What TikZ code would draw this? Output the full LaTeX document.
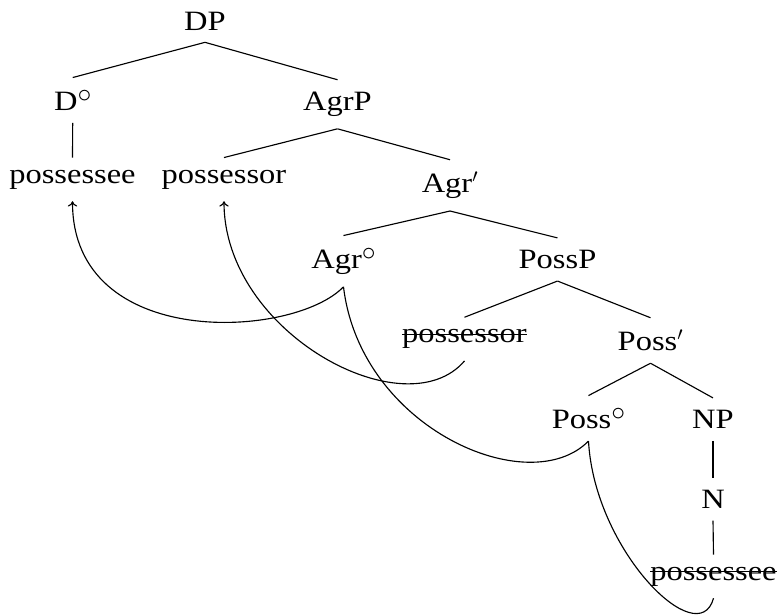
\documentclass[tikz,border=0pt]{standalone}
\usepackage{fontspec}
\usetikzlibrary{arrows.meta}
\setmainfont[FakeStretch=1.16]{Liberation Serif}
% struck-through (deleted) copy of a moved constituent
\newcommand\struck[1]{\setbox0\hbox{#1}\rlap{\rule[0.29em]{\wd0}{0.7pt}}\box0}
% head marker (small raised circle)
\newcommand\hd{\raisebox{0.3em}{$\circ$}}
\begin{document}
\begin{tikzpicture}[x=0.75pt,y=-0.75pt,
  lbl/.style={anchor=base, inner xsep=0pt, inner ysep=9pt,
              font=\fontsize{21}{25}\selectfont},
  branch/.style={line width=0.85pt},
  move/.style={line width=0.85pt},
  tip/.style={-{To[length=4pt,width=7pt]}}]
\useasboundingbox (0,0) rectangle (778,615);

% tree nodes (placed by baseline)
\node[lbl] (DP)     at (205,30)      {DP};
\node[lbl] (D0)     at (72.7,110.5)  {D\hd};
\node[lbl] (AgrP)   at (337.5,110.5) {AgrP};
\node[lbl] (pe1)    at (72.5,183)    {possessee};
\node[lbl] (pr1)    at (224,183)     {possessor};
\node[lbl] (Agrb)   at (450,192.7)   {Agr$'$};
\node[lbl] (Agr0)   at (343.5,268.5) {Agr\hd};
\node[lbl] (PossP)  at (557.5,268.5) {PossP};
\node[lbl] (pr2)    at (464.5,342.7) {\struck{possessor}};
\node[lbl] (Possb)  at (650.5,350.7) {Poss$'$};
\node[lbl] (Poss0)  at (588.5,428.5) {Poss\hd};
\node[lbl] (NP)     at (713,428.5)   {NP};
\node[lbl] (N)      at (713,508.3)   {N};
\node[lbl] (pe2)    at (713.5,580)   {\struck{possessee}};

% branches
\draw[branch] (DP.south) -- (D0.north);
\draw[branch] (DP.south) -- (AgrP.north);
\draw[branch] (D0.south) -- (pe1.north);
\draw[branch] (AgrP.south) -- (pr1.north);
\draw[branch] (AgrP.south) -- (Agrb.north);
\draw[branch] (Agrb.south) -- (Agr0.north);
\draw[branch] (Agrb.south) -- (PossP.north);
\draw[branch] (PossP.south) -- (pr2.north);
\draw[branch] (PossP.south) -- (Possb.north);
\draw[branch] (Possb.south) -- (Poss0.north);
\draw[branch] (Possb.south) -- (NP.north);
\draw[branch] (NP.south) -- (N.north);
\draw[branch] (N.south) -- (pe2.north);

% movement paths
\draw[move,tip] (Agr0.south) .. controls +(-50,52) and +(0,150) .. (pe1.south);
\draw[move,tip] (pr2.south) .. controls +(-59,69) and +(0,132) .. (pr1.south);
\draw[move] (Poss0.south) .. controls +(-59,60) and +(17,142) .. (Agr0.south);
\draw[move] (pe2.south) .. controls +(-15,55) and +(6,110) .. (Poss0.south);
\end{tikzpicture}
\end{document}
